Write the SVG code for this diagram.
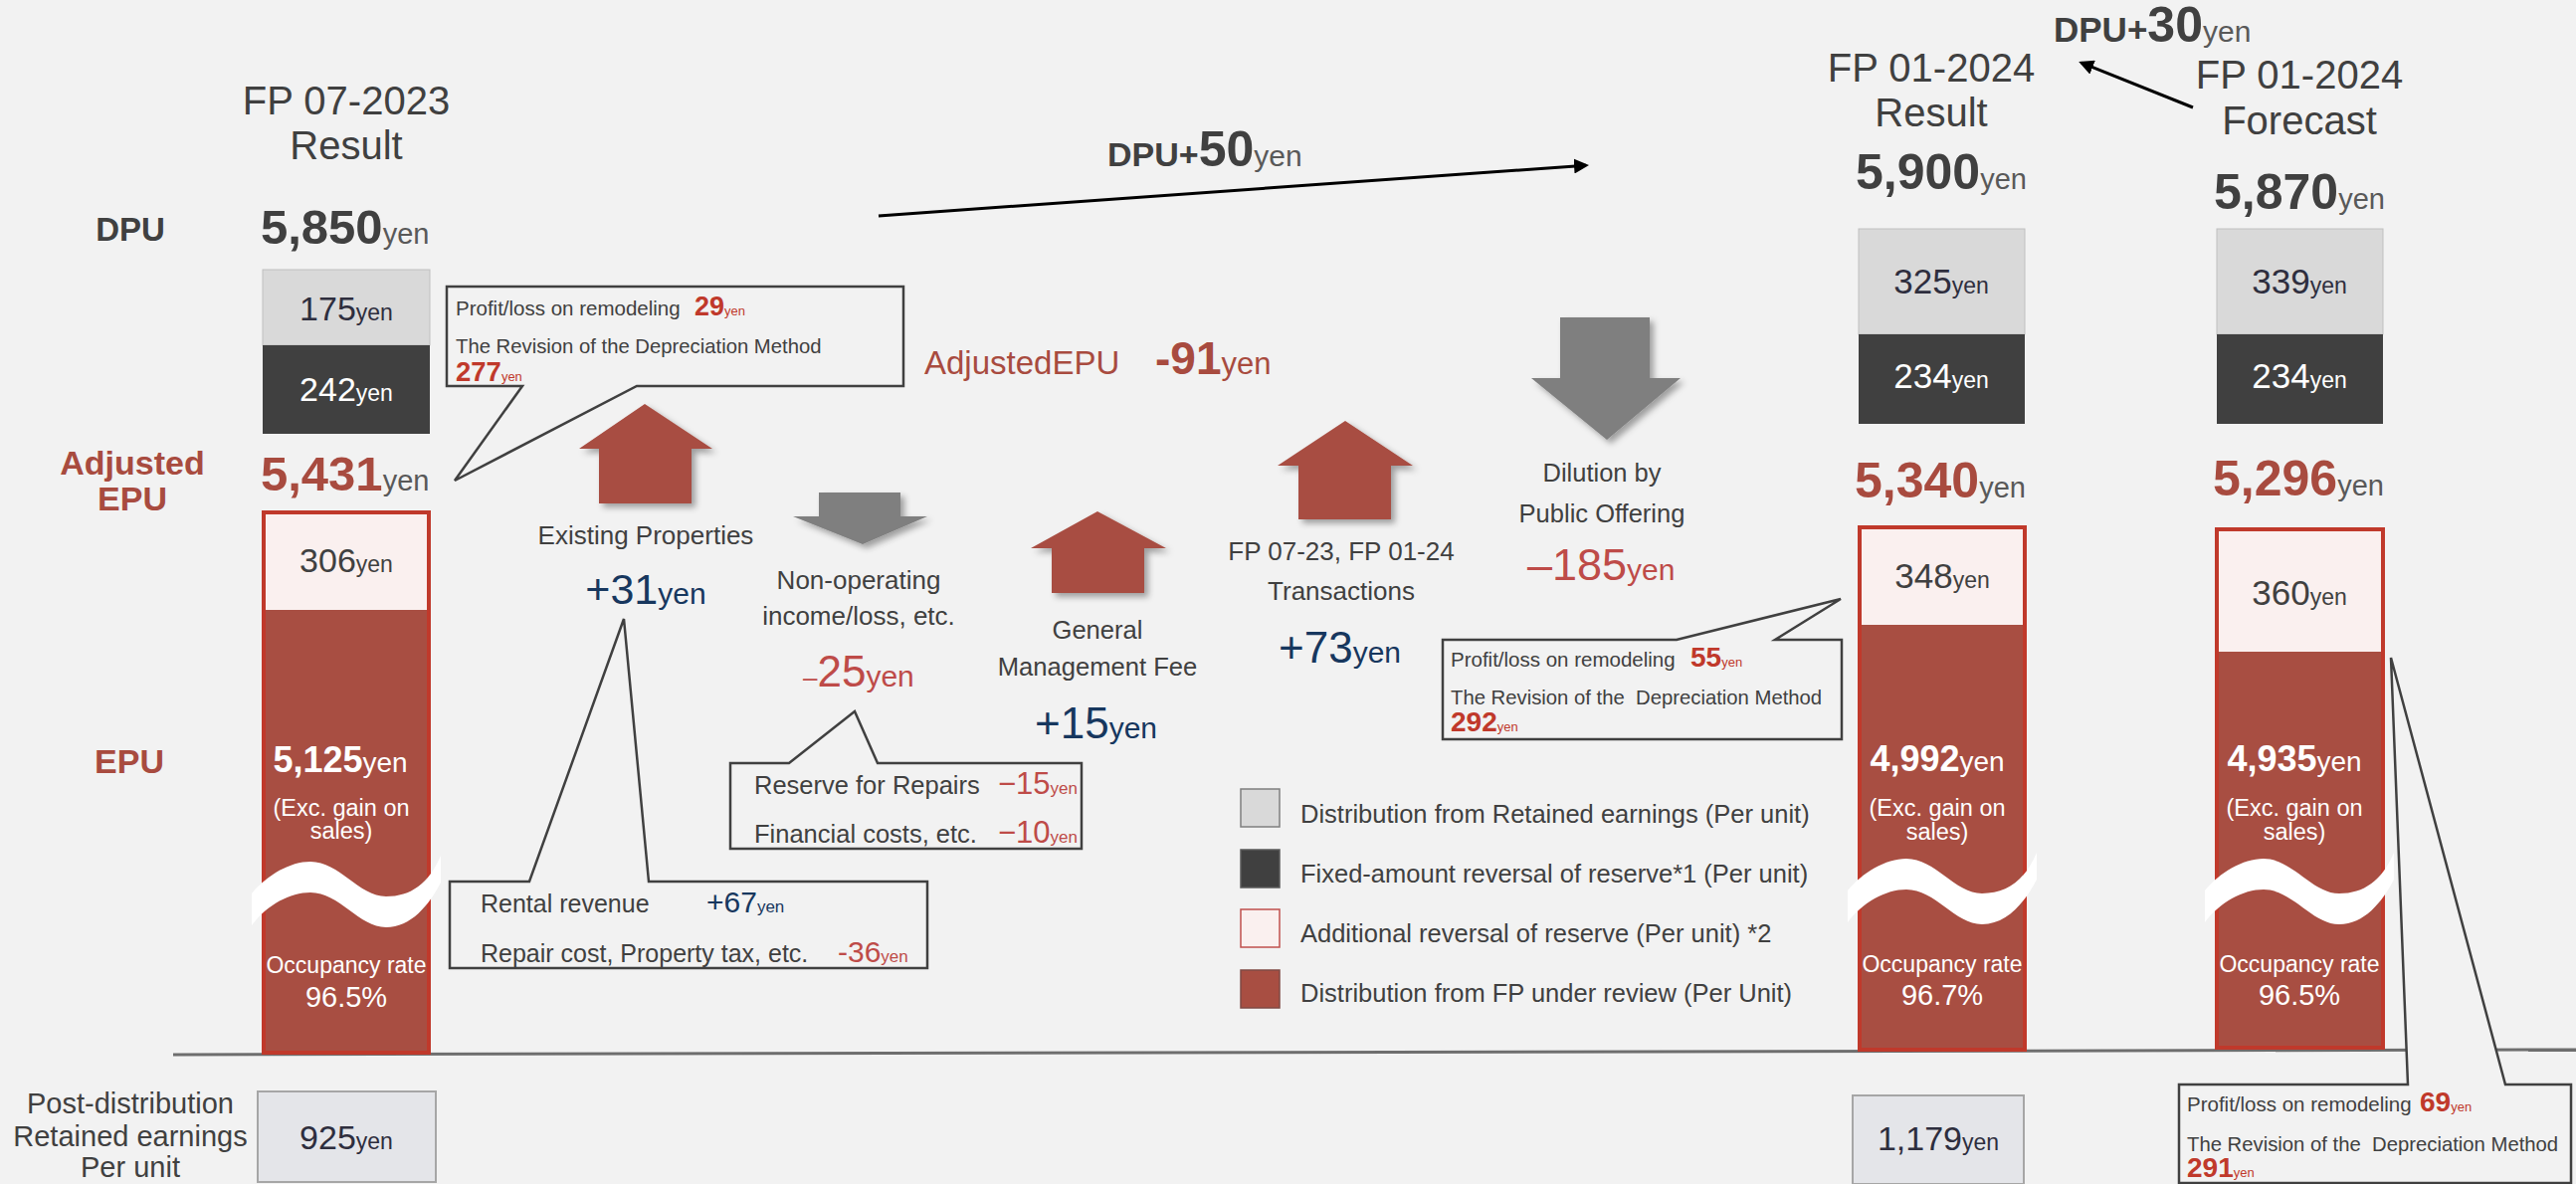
<svg xmlns="http://www.w3.org/2000/svg" width="2589" height="1190" viewBox="0 0 2589 1190">
<defs>
<style>
text{font-family:"Liberation Sans",Arial,sans-serif;fill:#404040}
.b{font-weight:bold}
.red{fill:#A84B3F}
.cr{fill:#C0392B}
.nr{fill:#BE4B48}
.blue{fill:#17375E}
.w{fill:#FFFFFF}
.gy{fill:#595959}
.nv{fill:#2E2E3E}
.pre{white-space:pre}
.callout{fill:#F2F2F2;stroke:#404040;stroke-width:2.5}
.lt{fill:#D9D9D9;stroke:#BFBFBF;stroke-width:1}
.dk{fill:#404040}
.bar{fill:#A84E42;stroke:#C0392B;stroke-width:4}
.pink{fill:#FAF0EF}
.up{fill:#A84E42;filter:url(#sh)}
.dn{fill:#7F7F7F;filter:url(#sh)}
.conn{stroke:#000;stroke-width:3;fill:none;marker-end:url(#ah)}
.ret{fill:#E4E5E9;stroke:#A6A6A6;stroke-width:2}
</style>
<filter id="sh" x="-20%" y="-20%" width="150%" height="150%">
<feDropShadow dx="4" dy="4" stdDeviation="3" flood-color="#000" flood-opacity="0.35"/>
</filter>
<marker id="ah" viewBox="0 0 10 10" refX="8" refY="5" markerWidth="5" markerHeight="5" orient="auto" markerUnits="strokeWidth">
<path d="M0,0 L10,5 L0,10 Z" fill="#000"/>
</marker>
<path id="wave" fill="#FFFFFF" d="M-10,32 C5,14 28,0 49,0 C78,0 98,35 125,35 C150,35 168,22 180,-6 L180,21 C168,44 150,66 125,66 C98,66 78,31 49,31 C28,31 5,44 -10,64 Z"/>
</defs>

<rect x="0" y="0" width="2589" height="1190" fill="#F2F2F2"/>

<!-- axis -->
<line x1="174" y1="1060" x2="2589" y2="1055" stroke="#6E6E6E" stroke-width="3"/>

<!-- row labels -->
<g id="row-labels">
<text x="131" y="242" text-anchor="middle" font-size="33" class="b">DPU</text>
<text x="133" y="477" text-anchor="middle" font-size="34" class="b red">Adjusted</text>
<text x="133" y="513" text-anchor="middle" font-size="34" class="b red">EPU</text>
<text x="130" y="777" text-anchor="middle" font-size="34" class="b red">EPU</text>
<text x="131" y="1119" text-anchor="middle" font-size="29">Post-distribution</text>
<text x="131" y="1152" text-anchor="middle" font-size="29">Retained earnings</text>
<text x="131" y="1183" text-anchor="middle" font-size="29">Per unit</text>
</g>

<!-- FP 07-2023 column -->
<g id="col-fp0723">
<text x="348" y="115" text-anchor="middle" font-size="40">FP 07-2023</text>
<text x="348" y="160" text-anchor="middle" font-size="40">Result</text>
<text x="262" y="245"><tspan class="b" font-size="49">5,850</tspan><tspan class="gy" font-size="29">yen</tspan></text>
<rect class="lt" x="264" y="271" width="168" height="76"/>
<rect class="dk" x="264" y="347" width="168" height="89"/>
<text x="348" y="322" text-anchor="middle" class="nv"><tspan font-size="34" class="nv">175</tspan><tspan font-size="23" class="nv">yen</tspan></text>
<text x="348" y="403" text-anchor="middle" class="w"><tspan font-size="34" class="w">242</tspan><tspan font-size="23" class="w">yen</tspan></text>
<text x="262" y="493"><tspan class="b red" font-size="49">5,431</tspan><tspan class="gy" font-size="29">yen</tspan></text>
<rect class="bar" x="265" y="515" width="166" height="543"/>
<rect class="pink" x="267" y="517" width="162" height="96"/>
<text x="348" y="575" text-anchor="middle"><tspan font-size="34">306</tspan><tspan font-size="23">yen</tspan></text>
<text x="342" y="776" text-anchor="middle" class="w"><tspan class="b w" font-size="36">5,125</tspan><tspan class="w" font-size="28">yen</tspan></text>
<text x="343" y="820" text-anchor="middle" font-size="23.5" class="w">(Exc. gain on</text>
<text x="343" y="843" text-anchor="middle" font-size="23.5" class="w">sales)</text>
<use href="#wave" x="263" y="866"/>
<text x="348" y="978" text-anchor="middle" font-size="23" class="w">Occupancy rate</text>
<text x="348" y="1012" text-anchor="middle" font-size="29" class="w">96.5%</text>
<rect class="ret" x="259" y="1097" width="179" height="91"/>
<text x="348" y="1155" text-anchor="middle" class="nv"><tspan font-size="34" class="nv">925</tspan><tspan font-size="23" class="nv">yen</tspan></text>
</g>

<!-- callout 1 -->
<g id="callout-5431">
<path class="callout" d="M449,288 H908 V388 H640 L457,483 L525,388 H449 Z"/>
<text x="458" y="317" font-size="20.5">Profit/loss on remodeling</text>
<text x="698" y="317"><tspan class="b cr" font-size="27">29</tspan><tspan class="cr" font-size="13">yen</tspan></text>
<text x="458" y="355" font-size="20.3">The Revision of the Depreciation Method</text>
<text x="458" y="383"><tspan class="b cr" font-size="27.5">277</tspan><tspan class="cr" font-size="13">yen</tspan></text>
</g>

<!-- Existing properties -->
<g id="existing-properties">
<polygon class="up" points="648,406 716,451 695,451 695,506 602,506 602,451 582,451"/>
<text x="649" y="547" text-anchor="middle" font-size="26">Existing Properties</text>
<text x="649" y="607" text-anchor="middle" class="blue"><tspan class="blue" font-size="43">+31</tspan><tspan class="blue" font-size="30">yen</tspan></text>
</g>

<g id="callout-existing">
<path class="callout" d="M452,886 H532 L627,622 L652,886 H932 V973 H452 Z"/>
<text x="483" y="917" font-size="25">Rental revenue</text>
<text x="710" y="917"><tspan class="blue" font-size="30">+67</tspan><tspan class="blue" font-size="17">yen</tspan></text>
<text x="483" y="967" font-size="25">Repair cost, Property tax, etc.</text>
<text x="842" y="967"><tspan class="nr" font-size="30">-36</tspan><tspan class="nr" font-size="17">yen</tspan></text>
</g>

<!-- Non-operating -->
<g id="non-operating">
<polygon class="dn" points="823,495 905,495 905,519 932,519 867,547 797,519 823,519"/>
<text x="863" y="592" text-anchor="middle" font-size="26">Non-operating</text>
<text x="863" y="628" text-anchor="middle" font-size="26">income/loss, etc.</text>
<text x="807" y="690"><tspan class="nr" font-size="26">–</tspan><tspan class="nr" font-size="44">25</tspan><tspan class="nr" font-size="30">yen</tspan></text>
</g>

<g id="callout-nonop">
<path class="callout" d="M734,767 H793 L859,715 L882,767 H1087 V853 H734 Z"/>
<text x="758" y="798" font-size="25.5">Reserve for Repairs</text>
<text x="1003" y="798"><tspan class="nr" font-size="31">−15</tspan><tspan class="nr" font-size="17">yen</tspan></text>
<text x="758" y="847" font-size="25.5">Financial costs, etc.</text>
<text x="1003" y="847"><tspan class="nr" font-size="31">−10</tspan><tspan class="nr" font-size="17">yen</tspan></text>
</g>

<!-- General management fee -->
<g id="general-mgmt">
<polygon class="up" points="1103,514 1172,551 1150,551 1150,596 1057,596 1057,551 1036,551"/>
<text x="1103" y="642" text-anchor="middle" font-size="25.6">General</text>
<text x="1103" y="679" text-anchor="middle" font-size="25.6">Management Fee</text>
<text x="1040" y="742"><tspan class="blue" font-size="44">+15</tspan><tspan class="blue" font-size="30">yen</tspan></text>
</g>

<!-- Adjusted EPU change -->
<g id="adjusted-epu-change">
<text x="929" y="376"><tspan class="red" font-size="33">AdjustedEPU</tspan></text>
<text x="1161" y="376"><tspan class="b red" font-size="46">-91</tspan><tspan class="red" font-size="31">yen</tspan></text>
</g>

<!-- DPU +50 -->
<g id="dpu-plus-50">
<text x="1113" y="167"><tspan class="b" font-size="34">DPU+</tspan><tspan class="b" font-size="50">50</tspan><tspan class="gy" font-size="30">yen</tspan></text>
</g>

<!-- Transactions -->
<g id="transactions">
<polygon class="up" points="1352,423 1420,468 1398,468 1398,522 1305,522 1305,468 1284,468"/>
<text x="1348" y="563" text-anchor="middle" font-size="26">FP 07-23, FP 01-24</text>
<text x="1348" y="603" text-anchor="middle" font-size="26">Transactions</text>
<text x="1285" y="666"><tspan class="blue" font-size="44">+73</tspan><tspan class="blue" font-size="30">yen</tspan></text>
</g>

<!-- Dilution -->
<g id="dilution">
<polygon class="dn" points="1568,319 1658,319 1658,380 1689,380 1615,442 1539,380 1568,380"/>
<text x="1610" y="484" text-anchor="middle" font-size="25.5">Dilution by</text>
<text x="1610" y="525" text-anchor="middle" font-size="25.5">Public Offering</text>
<text x="1535" y="583"><tspan class="nr" font-size="45">–185</tspan><tspan class="nr" font-size="30">yen</tspan></text>
</g>

<g id="callout-5340">
<path class="callout" d="M1450,643 H1685 L1850,602 L1784,643 H1851 V743 H1450 Z"/>
<text x="1458" y="670" font-size="20.5">Profit/loss on remodeling</text>
<text x="1699" y="670"><tspan class="b cr" font-size="28">55</tspan><tspan class="cr" font-size="13">yen</tspan></text>
<text x="1458" y="708" font-size="20.3" class="pre">The Revision of the  Depreciation Method</text>
<text x="1458" y="735"><tspan class="b cr" font-size="28">292</tspan><tspan class="cr" font-size="13">yen</tspan></text>
</g>

<!-- Legend -->
<g id="legend">
<rect x="1247" y="793" width="39" height="38" fill="#D9D9D9" stroke="#7F7F7F" stroke-width="1.5"/>
<rect x="1247" y="854" width="39" height="38" fill="#404040" stroke="#595959" stroke-width="1.5"/>
<rect x="1247" y="914" width="39" height="38" fill="#FAF0EF" stroke="#C0504D" stroke-width="1.5"/>
<rect x="1247" y="975" width="39" height="38" fill="#A84E42" stroke="#7F4A44" stroke-width="1.5"/>
<text x="1307" y="827" font-size="25.5">Distribution from Retained earnings (Per unit)</text>
<text x="1307" y="887" font-size="25.5">Fixed-amount reversal of reserve*1 (Per unit)</text>
<text x="1307" y="947" font-size="25.5">Additional reversal of reserve (Per unit) *2</text>
<text x="1307" y="1007" font-size="25.5">Distribution from FP under review (Per Unit)</text>
</g>

<!-- FP 01-2024 Result -->
<g id="col-fp0124-result">
<text x="1941" y="82" text-anchor="middle" font-size="40">FP 01-2024</text>
<text x="1941" y="127" text-anchor="middle" font-size="40">Result</text>
<text x="1865" y="190"><tspan class="b" font-size="50">5,900</tspan><tspan class="gy" font-size="29">yen</tspan></text>
<rect class="lt" x="1868" y="230" width="167" height="106"/>
<rect class="dk" x="1868" y="336" width="167" height="90"/>
<text x="1951" y="295" text-anchor="middle" class="nv"><tspan font-size="35" class="nv">325</tspan><tspan font-size="23" class="nv">yen</tspan></text>
<text x="1951" y="390" text-anchor="middle" class="w"><tspan font-size="35" class="w">234</tspan><tspan font-size="23" class="w">yen</tspan></text>
<text x="1864" y="500"><tspan class="b red" font-size="50">5,340</tspan><tspan class="gy" font-size="29">yen</tspan></text>
<rect class="bar" x="1869" y="530" width="166" height="525"/>
<rect class="pink" x="1871" y="532" width="162" height="96"/>
<text x="1952" y="591" text-anchor="middle"><tspan font-size="35">348</tspan><tspan font-size="23">yen</tspan></text>
<text x="1947" y="775" text-anchor="middle" class="w"><tspan class="b w" font-size="36">4,992</tspan><tspan class="w" font-size="28">yen</tspan></text>
<text x="1947" y="820" text-anchor="middle" font-size="23.5" class="w">(Exc. gain on</text>
<text x="1947" y="844" text-anchor="middle" font-size="23.5" class="w">sales)</text>
<use href="#wave" x="1867" y="863"/>
<text x="1952" y="977" text-anchor="middle" font-size="23" class="w">Occupancy rate</text>
<text x="1952" y="1010" text-anchor="middle" font-size="29" class="w">96.7%</text>
<rect class="ret" x="1862" y="1101" width="172" height="89"/>
<text x="1948" y="1156" text-anchor="middle" class="nv"><tspan font-size="34" class="nv">1,179</tspan><tspan font-size="23" class="nv">yen</tspan></text>
</g>

<!-- FP 01-2024 Forecast -->
<g id="col-fp0124-forecast">
<text x="2311" y="89" text-anchor="middle" font-size="40">FP 01-2024</text>
<text x="2311" y="135" text-anchor="middle" font-size="40">Forecast</text>
<text x="2225" y="210"><tspan class="b" font-size="50">5,870</tspan><tspan class="gy" font-size="29">yen</tspan></text>
<rect class="lt" x="2228" y="230" width="167" height="106"/>
<rect class="dk" x="2228" y="336" width="167" height="90"/>
<text x="2311" y="295" text-anchor="middle" class="nv"><tspan font-size="35" class="nv">339</tspan><tspan font-size="23" class="nv">yen</tspan></text>
<text x="2311" y="390" text-anchor="middle" class="w"><tspan font-size="35" class="w">234</tspan><tspan font-size="23" class="w">yen</tspan></text>
<text x="2224" y="498"><tspan class="b red" font-size="50">5,296</tspan><tspan class="gy" font-size="29">yen</tspan></text>
<rect class="bar" x="2228" y="532" width="167" height="521"/>
<rect class="pink" x="2230" y="534" width="163" height="121"/>
<text x="2311" y="608" text-anchor="middle"><tspan font-size="35">360</tspan><tspan font-size="23">yen</tspan></text>
<text x="2306" y="775" text-anchor="middle" class="w"><tspan class="b w" font-size="36">4,935</tspan><tspan class="w" font-size="28">yen</tspan></text>
<text x="2306" y="820" text-anchor="middle" font-size="23.5" class="w">(Exc. gain on</text>
<text x="2306" y="844" text-anchor="middle" font-size="23.5" class="w">sales)</text>
<use href="#wave" x="2226" y="863"/>
<text x="2311" y="977" text-anchor="middle" font-size="23" class="w">Occupancy rate</text>
<text x="2311" y="1010" text-anchor="middle" font-size="29" class="w">96.5%</text>
</g>

<g id="callout-5296">
<path class="callout" d="M2190,1090 H2420 L2403,661 L2518,1090 H2584 V1189 H2190 Z"/>
<text x="2198" y="1117" font-size="20.5">Profit/loss on remodeling</text>
<text x="2432" y="1117"><tspan class="b cr" font-size="28">69</tspan><tspan class="cr" font-size="13">yen</tspan></text>
<text x="2198" y="1157" font-size="20.3" class="pre">The Revision of the  Depreciation Method</text>
<text x="2198" y="1183"><tspan class="b cr" font-size="28">291</tspan><tspan class="cr" font-size="13">yen</tspan></text>
</g>

<!-- DPU +30 -->
<g id="dpu-plus-30">
<text x="2064" y="42"><tspan class="b" font-size="35">DPU+</tspan><tspan class="b" font-size="50">30</tspan><tspan class="gy" font-size="30">yen</tspan></text>
</g>

<!-- connectors -->
<g id="connectors">
<line class="conn" x1="883" y1="217" x2="1594" y2="166.2"/>
<line class="conn" x1="2204" y1="108" x2="2092" y2="63.2"/>
</g>
</svg>
